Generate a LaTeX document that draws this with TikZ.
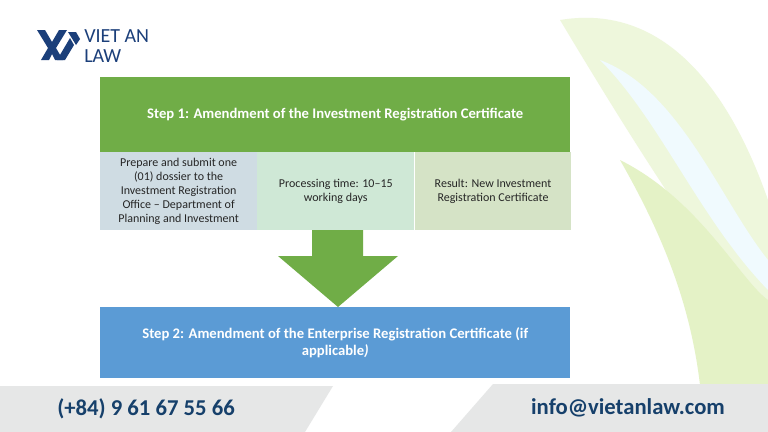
\documentclass[tikz,border=0pt]{standalone}
\usepackage{fontspec}
\setmainfont{Carlito}
\usetikzlibrary{positioning}
\definecolor{stepgreen}{HTML}{70AD47}
\definecolor{stepblue}{HTML}{5B9BD5}
\definecolor{cellone}{HTML}{CFDCE3}
\definecolor{celltwo}{HTML}{CFE8D6}
\definecolor{cellthree}{HTML}{D5E3C6}
\definecolor{logoblue}{HTML}{1B3F7A}
\definecolor{footgray}{HTML}{E6E7E7}
\definecolor{foottext}{HTML}{16406B}
\definecolor{leafgreen}{HTML}{DDEFB8}
\begin{document}
\begin{tikzpicture}[
    x=0.75pt, y=-0.75pt,
    stepbox/.style={rectangle, minimum width=352.5pt, minimum height=56pt, align=center, font=\bfseries\fontsize{11}{13}\selectfont, text=white, inner sep=0pt},
    cell/.style={rectangle, minimum width=117.5pt, minimum height=58.5pt, align=center, font=\fontsize{9}{10.5}\selectfont, text=black!85, inner sep=0pt},
    foot/.style={font=\bfseries\fontsize{17}{18}\selectfont, text=foottext}
]
\useasboundingbox (0,0) rectangle (768,432);
\fill[white] (0,0) rectangle (768,432);

% background leaves
\fill[leafgreen!50] (560,20) .. controls (680,0) and (740,120) .. (768,200) -- (768,330) .. controls (700,250) and (620,120) .. (560,20);
\fill[leafgreen!80] (620,160) .. controls (700,200) and (740,280) .. (768,300) -- (768,385) -- (700,385) .. controls (690,300) and (660,230) .. (620,160);
\fill[cyan!6] (600,60) .. controls (680,90) and (720,200) .. (768,260) -- (768,290) .. controls (700,220) and (660,120) .. (600,60);

% logo
\fill[logoblue] (37,30) -- (45,30) -- (52,42) -- (59,30) -- (67,30) -- (56,48) -- (63,60) -- (55,60) -- (52,54) -- (49,60) -- (41,60) -- (48,48) -- cycle;
\fill[logoblue] (57,60) -- (70,38) -- (74,45) -- (65,60) -- cycle;
\fill[logoblue] (68,32) -- (76,32) -- (80,39) -- (76,45) -- cycle;
\node[anchor=west, text=logoblue, font=\fontsize{15}{15}\selectfont, align=left, inner sep=0pt] (logo) at (84,46) {VIET AN\\LAW};

% steps
\node[stepbox, fill=stepgreen, anchor=north west] (step1) at (100,77) {Step 1: Amendment of the Investment Registration Certificate};
\node[cell, fill=cellone, anchor=north west] (dossier) at (100,152) {Prepare and submit one\\(01) dossier to the\\Investment Registration\\Office -- Department of\\Planning and Investment};
\node[cell, fill=celltwo, right=0pt of dossier] (time) {Processing time: 10--15\\working days};
\node[cell, fill=cellthree, right=0pt of time] (result) {Result: New Investment\\Registration Certificate};
\fill[stepgreen] (312,230) -- (363,230) -- (363,256) -- (398,256) -- (338,307) -- (278,256) -- (312,256) -- cycle;
\node[stepbox, fill=stepblue, minimum height=53pt, anchor=north west] (step2) at (100,307) {Step 2: Amendment of the Enterprise Registration Certificate (if\\applicable\textit{)}};

% footer
\fill[footgray] (0,386) -- (333,386) -- (305,432) -- (0,432) -- cycle;
\fill[footgray] (493,384) -- (768,384) -- (768,432) -- (451,432) -- cycle;
\node[foot] (phone) at (146,409) {(+84) 9 61 67 55 66};
\node[foot] (mail) at (628,408) {info@vietanlaw.com};
\end{tikzpicture}
\end{document}
